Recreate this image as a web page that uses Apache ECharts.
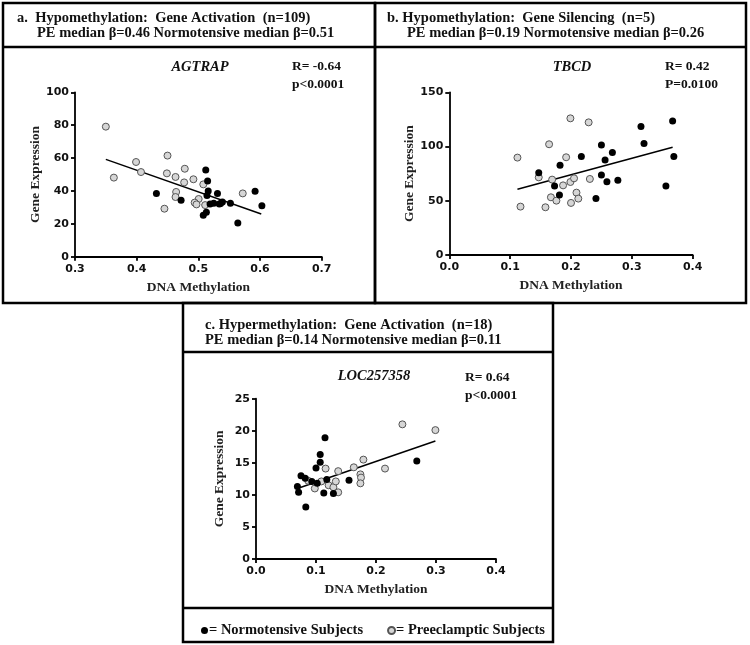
<!DOCTYPE html>
<html><head><meta charset="utf-8">
<script src="https://cdn.jsdelivr.net/npm/echarts@6/dist/echarts.min.js"></script>
<style>html,body{margin:0;padding:0;background:#fff}#c{width:750px;height:645px}</style>
</head><body><div id="c"></div>
<script>
// ---- Panel a: AGTRAP ----
const aNormo = [[0.432,38.5],[0.472,34.3],[0.512,52.7],[0.515,46.0],[0.516,40.0],[0.514,37.3],[0.531,38.5],[0.519,32.0],[0.525,32.5],[0.536,32.3],[0.534,32.0],[0.539,33.3],[0.552,32.5],[0.508,25.2],[0.513,27.0],[0.564,20.5],[0.592,39.8],[0.603,31.0]];
const aPE = [[0.350,79.1],[0.363,48.1],[0.399,57.6],[0.407,51.5],[0.450,61.5],[0.449,50.7],[0.463,48.5],[0.478,53.5],[0.477,45.2],[0.492,47.1],[0.508,44.0],[0.464,39.4],[0.463,36.3],[0.445,29.2],[0.5005,35.1],[0.494,32.9],[0.497,31.8],[0.511,31.4],[0.572,38.5]];
const aFit = [[0.350,59.2],[0.602,26.0]];
// ---- Panel b: TBCD ----
const bNormo = [[0.147,75.9],[0.182,82.7],[0.173,63.6],[0.181,55.3],[0.217,90.7],[0.241,52.0],[0.250,101.4],[0.250,73.8],[0.256,87.6],[0.259,67.6],[0.268,94.4],[0.277,68.9],[0.315,118.4],[0.320,102.7],[0.356,63.6],[0.367,123.6],[0.369,90.7]];
const bPE = [[0.112,89.8],[0.117,44.6],[0.147,71.6],[0.164,102.1],[0.169,69.5],[0.167,53.2],[0.176,50.1],[0.158,44.0],[0.192,90.1],[0.187,64.2],[0.199,126.0],[0.199,67.3],[0.205,70.7],[0.209,57.5],[0.212,52.0],[0.200,48.0],[0.231,70.1],[0.229,122.3]];
const bFit = [[0.112,60.6],[0.367,99.3]];
// ---- Panel c: LOC257358 ----
const cNormo = [[0.069,11.3],[0.071,10.4],[0.075,13.0],[0.082,12.6],[0.083,8.1],[0.093,12.1],[0.100,14.2],[0.102,11.8],[0.107,16.3],[0.107,15.1],[0.113,10.3],[0.115,18.9],[0.118,12.4],[0.129,10.2],[0.155,12.3],[0.268,15.3]];
const cPE = [[0.087,12.2],[0.098,11.0],[0.109,12.1],[0.116,14.1],[0.121,11.5],[0.129,11.2],[0.133,12.1],[0.137,13.7],[0.137,10.4],[0.163,14.3],[0.174,13.2],[0.175,12.7],[0.174,11.8],[0.179,15.5],[0.215,14.1],[0.244,21.0],[0.299,20.1]];
const cFit = [[0.069,11.0],[0.299,18.4]];

const genes = ['AGTRAP','TBCD','LOC257358'];
const stats = [['R= -0.64','p<0.0001'],['R= 0.42','P=0.0100'],['R= 0.64','p<0.0001']];
const headers = [
  ['a.  Hypomethylation:  Gene Activation  (n=109)','PE median β=0.46 Normotensive median β=0.51'],
  ['b. Hypomethylation:  Gene Silencing  (n=5)','PE median β=0.19 Normotensive median β=0.26'],
  ['c. Hypermethylation:  Gene Activation  (n=18)','PE median β=0.14 Normotensive median β=0.11']
];
const xRanges = [[0.3,0.7,0.1],[0,0.4,0.1],[0,0.4,0.1]];
const yRanges = [[0,100,20],[0,150,50],[0,25,5]];
const NAME_N = 'Normotensive Subjects', NAME_P = 'Preeclamptic Subjects';

const serif = '"Liberation Serif","Times New Roman",serif';
const sans = '"DejaVu Sans",Arial,sans-serif';

const grids = [
  {left:75, right:428.3, top:92.3, bottom:388.3},
  {left:449.3, right:57.3, top:92.3, bottom:390},
  {left:256, right:254, top:398.7, bottom:86}
];
const xAxes = [], yAxes = [], series = [];
const normos=[aNormo,bNormo,cNormo], pes=[aPE,bPE,cPE], fits=[aFit,bFit,cFit];
for (let i=0;i<3;i++){
  const axLine = {show:true, lineStyle:{color:'#000', width:1.8}};
  const axTick = {show:true, length:4, lineStyle:{color:'#000', width:1.8}};
  xAxes.push({gridIndex:i, type:'value', min:xRanges[i][0], max:xRanges[i][1], interval:xRanges[i][2],
    axisLine:axLine, axisTick:axTick, splitLine:{show:false},
    axisLabel:{color:'#111', fontFamily:sans, fontWeight:'bold', fontSize:11, margin:7, formatter:v=>v.toFixed(1)},
    name:'DNA Methylation', nameLocation:'middle', nameGap:24,
    nameTextStyle:{fontFamily:serif, fontWeight:'bold', fontSize:13.5, color:'#222'}});
  yAxes.push({gridIndex:i, type:'value', min:yRanges[i][0], max:yRanges[i][1], interval:yRanges[i][2],
    axisLine:axLine, axisTick:axTick, splitLine:{show:false},
    axisLabel:{color:'#111', fontFamily:sans, fontWeight:'bold', fontSize:11, margin:6},
    name:'Gene Expression', nameLocation:'middle', nameGap:29,
    nameTextStyle:{fontFamily:serif, fontWeight:'bold', fontSize:13.5, color:'#222'}});
  series.push({type:'line', xAxisIndex:i, yAxisIndex:i, data:fits[i], symbol:'none', silent:true,
    lineStyle:{color:'#000', width:1.5}, z:1});
  series.push({type:'scatter', name:NAME_P, xAxisIndex:i, yAxisIndex:i, data:pes[i], symbolSize:7,
    itemStyle:{color:'#d6d6d6', borderColor:'#555', borderWidth:1, opacity:1}, z:2});
  series.push({type:'scatter', name:NAME_N, xAxisIndex:i, yAxisIndex:i, data:normos[i], symbolSize:7,
    itemStyle:{color:'#000', opacity:1}, z:3});
}

const lw = 2.5;
const box = (x,y,w,h)=>({type:'rect', shape:{x,y,width:w,height:h}, style:{fill:null, stroke:'#000', lineWidth:lw}, silent:true});
const hline = (x1,x2,y)=>({type:'line', shape:{x1,y1:y,x2,y2:y}, style:{stroke:'#000', lineWidth:lw}, silent:true});
const txt = (x,y,t,opt={})=>({type:'text', x, y, silent:true, style:Object.assign({text:t, fill:'#111', font:'bold 14.5px '+serif, textVerticalAlign:'middle'}, opt)});

const graphic = [
  box(3,3,372,300), box(375,3,371,300), hline(3,746,47),
  box(183,303,370,339), hline(183,553,352), hline(183,553,608),
  txt(17,18,headers[0][0]), txt(37,33,headers[0][1]),
  txt(387,18,headers[1][0]), txt(407,33,headers[1][1]),
  txt(205,325,headers[2][0]), txt(205,340,headers[2][1]),
  txt(200,67,genes[0],{font:'italic bold 14.5px '+serif, textAlign:'center'}),
  txt(572,67,genes[1],{font:'italic bold 14.5px '+serif, textAlign:'center'}),
  txt(374,376,genes[2],{font:'italic bold 14.5px '+serif, textAlign:'center'}),
  txt(292,67,stats[0][0],{font:'bold 13.5px '+serif}), txt(292,85,stats[0][1],{font:'bold 13.5px '+serif}),
  txt(665,67,stats[1][0],{font:'bold 13.5px '+serif}), txt(665,85,stats[1][1],{font:'bold 13.5px '+serif}),
  txt(465,378,stats[2][0],{font:'bold 13.5px '+serif}), txt(465,396,stats[2][1],{font:'bold 13.5px '+serif})
];

const chart = echarts.init(document.getElementById('c'), null, {renderer:'canvas'});
chart.setOption({
  animation:false,
  backgroundColor:'#fff',
  grid:grids, xAxis:xAxes, yAxis:yAxes, series,
  legend:{data:[NAME_N, NAME_P], left:196, top:618, icon:'circle', itemWidth:7, itemHeight:7, itemGap:24,
    formatter:n=>'= '+n, textStyle:{fontFamily:serif, fontWeight:'bold', fontSize:14.5, color:'#111', padding:[0,0,0,-4]}},
  graphic
});
</script></body></html>
